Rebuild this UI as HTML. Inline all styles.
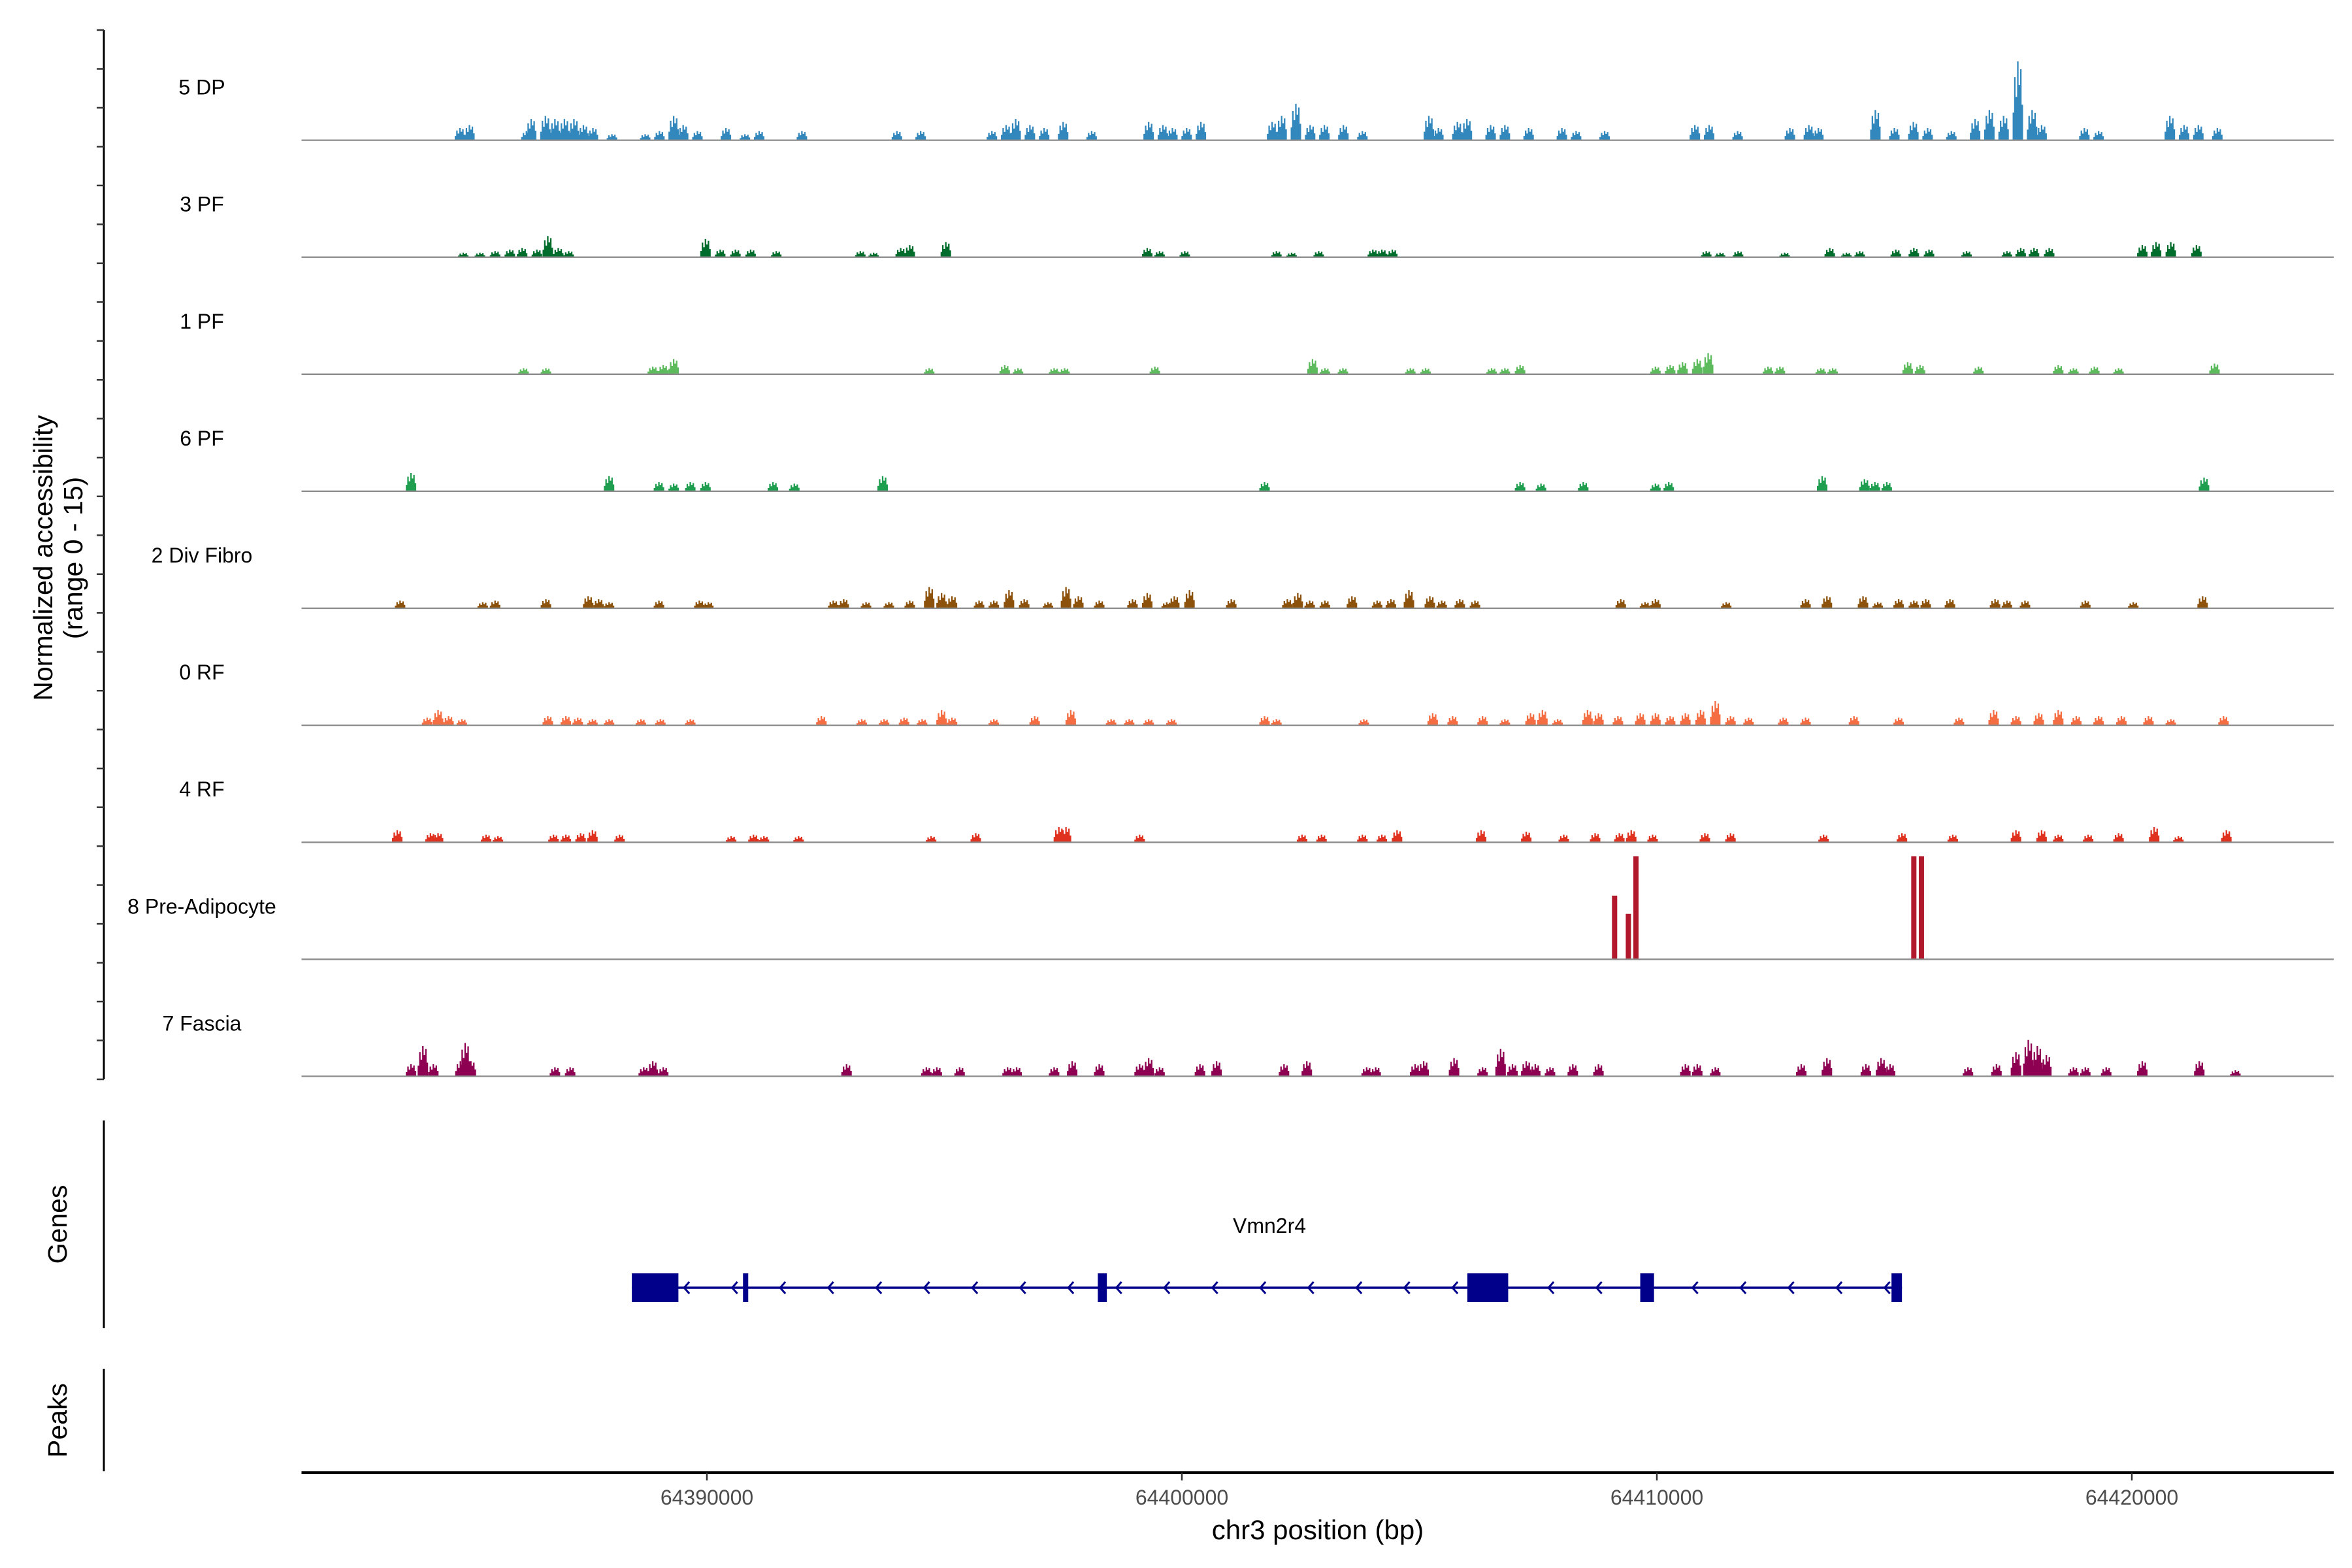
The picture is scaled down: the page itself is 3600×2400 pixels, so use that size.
<!DOCTYPE html>
<html><head><meta charset="utf-8"><title>Coverage plot chr3</title>
<style>
html,body{margin:0;padding:0;background:#fff;}
svg{display:block;font-family:"Liberation Sans",Arial,sans-serif;}
</style></head>
<body>
<svg id="chart" width="3600" height="2400" viewBox="0 0 3600 2400" xmlns="http://www.w3.org/2000/svg">
<rect width="3600" height="2400" fill="#fff"/>
<g id="tracks"></g>
<g id="leftaxis"></g>
<text transform="translate(80,854) rotate(-90)" text-anchor="middle" font-size="41" fill="#000">Normalized accessibility</text>
<text transform="translate(126,854) rotate(-90)" text-anchor="middle" font-size="41" fill="#000">(range 0 - 15)</text>
<line x1="159" y1="1715" x2="159" y2="2033" stroke="#000" stroke-width="3"/>
<text transform="translate(102,1874) rotate(-90)" text-anchor="middle" font-size="41">Genes</text>
<line x1="159" y1="2095" x2="159" y2="2252" stroke="#000" stroke-width="3"/>
<text transform="translate(102,2174) rotate(-90)" text-anchor="middle" font-size="41">Peaks</text>
<g id="gene"></g>
<g id="xaxis"></g>
<text x="2017" y="2356" text-anchor="middle" font-size="42">chr3 position (bp)</text>
</svg>
<script>
// genomic positions in kb, values in normalized accessibility
const trackNames = ["5 DP","3 PF","1 PF","6 PF","2 Div Fibro","0 RF","4 RF","8 Pre-Adipocyte","7 Fascia"];
const trackColors = ["#3288BD","#006D2C","#5DBB5D","#1E9E4E","#8C510A","#F46D43","#E0301E","#B2182B","#8E0152"];
const dpPeaks = [[64384.8,1.6],[64385.0,2],[64386.2,1.2],[64386.3,2.8],[64386.6,3.2],[64386.8,2.8],[64387.0,2.8],[64387.2,2.8],[64387.4,2],[64387.6,1.6],[64388.0,0.8],[64388.7,0.8],[64389.0,1.2],[64389.3,3.2],[64389.5,2],[64389.8,1.2],[64390.4,1.6],[64390.8,0.8],[64391.1,1.2],[64392.0,1.2],[64394.0,1.2],[64394.5,1.2],[64396.0,1.2],[64396.3,2],[64396.5,2.8],[64396.8,2],[64397.1,1.6],[64397.5,2.4],[64398.1,1.2],[64399.3,2.4],[64399.6,2],[64399.8,1.6],[64400.1,1.6],[64400.4,2.4],[64401.9,2.4],[64402.1,3.2],[64402.4,4.8],[64402.7,2],[64403.0,2],[64403.4,2],[64403.8,1.2],[64405.2,3.2],[64405.4,1.6],[64405.8,2.4],[64406.0,2.8],[64406.5,2],[64406.8,2],[64407.3,1.6],[64408.0,1.6],[64408.3,1.2],[64408.9,1.2],[64410.8,2],[64411.1,2],[64411.7,1.2],[64412.8,1.6],[64413.2,2],[64413.4,1.6],[64414.6,4],[64415.0,1.6],[64415.4,2.4],[64415.7,1.6],[64416.2,1.2],[64416.7,2.8],[64417.0,4],[64417.3,3.2],[64417.6,10.4],[64417.9,4],[64418.1,2],[64419.0,1.6],[64419.3,1.2],[64420.8,3.2],[64421.1,2],[64421.4,2],[64421.8,1.6]];
const pf3Peaks = [[64384.87,0.6],[64385.22,0.6],[64385.54,0.8],[64385.85,1],[64386.11,1.2],[64386.42,1],[64386.65,2.8],[64386.87,1.2],[64387.09,0.8],[64389.97,2.4],[64390.28,1],[64390.6,1],[64390.92,1],[64391.46,0.8],[64393.23,0.8],[64393.51,0.6],[64394.08,1.2],[64394.27,1.6],[64395.03,2],[64399.27,1.2],[64399.53,0.8],[64400.06,0.8],[64401.99,0.8],[64402.31,0.6],[64402.88,0.8],[64404.02,1],[64404.21,1],[64404.43,1],[64411.04,0.8],[64411.33,0.6],[64411.71,0.8],[64412.69,0.6],[64413.64,1.2],[64413.99,0.6],[64414.27,0.8],[64415.03,1],[64415.41,1.2],[64415.73,1],[64416.52,0.8],[64417.37,0.8],[64417.66,1.2],[64417.94,1.2],[64418.26,1.2],[64420.22,1.6],[64420.51,2],[64420.82,2],[64421.36,1.6]];
const pf1Peaks = [[64386.14,0.8],[64386.61,0.8],[64388.86,1],[64389.08,1.2],[64389.30,2],[64394.68,0.8],[64396.27,1.2],[64396.55,0.8],[64397.31,0.8],[64397.53,0.8],[64399.43,1],[64402.75,2],[64403.01,0.8],[64403.39,0.8],[64404.81,0.8],[64405.13,0.8],[64406.52,0.8],[64406.80,0.8],[64407.12,1.2],[64409.97,1],[64410.28,1.2],[64410.54,1.6],[64410.85,2],[64411.08,2.8],[64412.34,1],[64412.59,1],[64413.45,0.8],[64413.70,0.8],[64415.28,1.6],[64415.54,1.2],[64416.77,1],[64418.45,1.2],[64418.77,0.8],[64419.21,1],[64419.72,0.8],[64421.74,1.4]];
const pf6Peaks = [[64383.77,2.4],[64387.94,2],[64388.99,1.2],[64389.30,1],[64389.65,1.2],[64389.97,1.2],[64391.39,1.2],[64391.84,1],[64393.70,2],[64401.74,1.2],[64407.12,1.2],[64407.56,1],[64408.45,1.2],[64409.97,1],[64410.25,1.2],[64413.48,2],[64414.37,1.6],[64414.59,1.2],[64414.84,1.2],[64421.52,1.8]];
const divPeaks = [[64383.54,1],[64385.28,0.8],[64385.54,1],[64386.61,1.2],[64387.5,1.6],[64387.72,1.2],[64387.94,0.8],[64388.99,1],[64389.84,1],[64390.03,0.8],[64392.66,1],[64392.88,1.2],[64393.35,0.8],[64393.83,0.8],[64394.27,1],[64394.68,2.8],[64394.94,2],[64395.16,1.6],[64395.73,1],[64396.04,1],[64396.36,2.4],[64396.68,1.2],[64397.18,0.8],[64397.56,2.8],[64397.82,1.6],[64398.26,1],[64398.96,1.2],[64399.27,2],[64399.68,0.8],[64399.84,1.6],[64400.16,2.4],[64401.04,1.2],[64402.22,1.2],[64402.44,2],[64402.69,1],[64403.01,1],[64403.58,1.6],[64404.11,1],[64404.40,1.2],[64404.78,2.4],[64405.22,1.6],[64405.47,1],[64405.85,1.2],[64406.17,1],[64409.24,1.2],[64409.75,0.8],[64409.97,1.2],[64411.46,0.8],[64413.13,1.2],[64413.58,1.6],[64414.34,1.6],[64414.65,0.8],[64415.09,1.2],[64415.41,1],[64415.66,1.2],[64416.17,1.2],[64417.12,1.2],[64417.37,1],[64417.75,1],[64419.02,1],[64420.03,0.8],[64421.49,1.6]];
const rf0Peaks = [[64384.11,1],[64384.34,2],[64384.56,1.2],[64384.84,0.8],[64386.65,1.2],[64387.03,1.2],[64387.28,1],[64387.59,0.8],[64387.94,0.8],[64388.61,0.8],[64389.02,0.8],[64389.65,0.8],[64392.41,1.2],[64393.26,0.8],[64393.73,0.8],[64394.15,1],[64394.53,0.8],[64394.94,2],[64395.16,1],[64396.04,0.8],[64396.90,1.2],[64397.66,2],[64398.51,0.8],[64398.89,0.8],[64399.30,0.8],[64399.78,0.8],[64401.74,1.2],[64401.99,0.8],[64403.83,0.8],[64405.28,1.6],[64405.70,1.2],[64406.33,1.2],[64406.80,0.8],[64407.34,1.6],[64407.59,2],[64407.91,0.8],[64408.54,2],[64408.77,1.6],[64409.18,1.2],[64409.65,1.6],[64409.97,1.6],[64410.28,1.2],[64410.60,1.6],[64410.92,2],[64411.23,3.2],[64411.55,1.2],[64411.93,1],[64412.66,1],[64413.13,1],[64414.15,1.2],[64415.09,1],[64416.36,1],[64417.09,2],[64417.56,1.2],[64418.04,1.6],[64418.45,2],[64418.83,1.2],[64419.30,1.2],[64419.78,1.2],[64420.35,1.2],[64420.82,0.8],[64421.93,1.2]];
const rf4Peaks = [[64383.48,1.6],[64384.18,1.2],[64384.34,1.2],[64385.35,1],[64385.60,0.8],[64386.77,1],[64387.03,1],[64387.34,1.2],[64387.59,1.6],[64388.16,1],[64390.51,0.8],[64390.98,1],[64391.20,0.8],[64391.93,0.8],[64394.72,0.8],[64395.66,1.2],[64397.41,2],[64397.56,2],[64399.11,1],[64402.53,1],[64402.94,1],[64403.80,1],[64404.21,1],[64404.53,1.6],[64406.30,1.6],[64407.25,1.4],[64408.04,1],[64408.70,1.2],[64409.21,1.2],[64409.46,1.6],[64409.91,1],[64411.01,1.2],[64411.55,1.2],[64413.51,1],[64415.16,1.2],[64416.23,1],[64417.56,1.6],[64418.10,1.6],[64418.45,1],[64419.08,1],[64419.72,1.2],[64420.47,2],[64420.98,0.8],[64421.99,1.6]];
const adipoPeaks = [[64409.11,8.4],[64409.40,6],[64409.56,13.6],[64415.41,13.6],[64415.57,13.6]];
const fasciaPeaks = [[64383.77,1.6],[64384.02,4],[64384.24,1.6],[64384.81,2],[64384.91,4.4],[64385.03,2],[64386.80,1.2],[64387.12,1.2],[64388.67,1.2],[64388.86,2],[64389.08,1.2],[64392.94,1.6],[64394.62,1.2],[64394.84,1.2],[64395.32,1.2],[64396.33,1.2],[64396.52,1.2],[64397.31,1.2],[64397.69,2],[64398.26,1.6],[64399.11,1.6],[64399.30,2.4],[64399.53,1.2],[64400.38,1.6],[64400.73,2],[64402.15,1.6],[64402.63,2],[64403.89,1.2],[64404.08,1.2],[64404.91,1.6],[64405.09,2],[64405.73,2.4],[64406.33,1.2],[64406.71,3.6],[64406.96,1.6],[64407.25,2],[64407.44,1.6],[64407.75,1.2],[64408.23,1.6],[64408.77,1.6],[64410.60,1.6],[64410.85,1.6],[64411.23,1.2],[64413.04,1.6],[64413.58,2.4],[64414.40,1.6],[64414.72,2.4],[64414.91,1.6],[64416.55,1.2],[64417.15,1.6],[64417.56,3.2],[64417.82,4.8],[64418.01,4],[64418.20,2.8],[64418.77,1.2],[64419.02,1.2],[64419.46,1.2],[64420.22,2],[64421.42,2],[64422.18,0.8]];
const xTicks = [64390000,64400000,64410000,64420000];
const geneExons = [[64388.42,64389.40],[64390.76,64390.85],[64398.23,64398.42],[64406.01,64406.87],[64409.65,64409.94],[64414.94,64415.16]];
const geneSpan = [64388.42,64415.16];
const geneName = "Vmn2r4";

const allPeaks=[dpPeaks,pf3Peaks,pf1Peaks,pf6Peaks,divPeaks,rf0Peaks,rf4Peaks,adipoPeaks,fasciaPeaks];
const NS="http://www.w3.org/2000/svg";
const X0=461.5,X1=3572,KB0=64381.465,KB1=64424.25;
function xs(kb){return X0+(kb-KB0)/(KB1-KB0)*(X1-X0);}
const base0=214.6, step=179.1, unit=11.6;
function ys(v){return v*unit;}
function mk(tag,attrs,parent){const e=document.createElementNS(NS,tag);for(const k in attrs)e.setAttribute(k,attrs[k]);parent.appendChild(e);return e;}
const shape=[0.35,0.8,0.55,1,0.7,0.9,0.45];
const tg=document.getElementById('tracks');
trackNames.forEach((nm,i)=>{
  const b=base0+i*step;
  const g=mk('g',{},tg);
  
  
  const t=mk('text',{x:309,y:b-70,'text-anchor':'middle','font-size':32,fill:'#000'},g);
  
  
  t.textContent=nm;
  allPeaks[i].forEach(p=>{
    const cx=xs(p[0]);
    const h=ys(p[1]);
    let pts;
    if(i===7){
      pts=`${cx-4},${b} ${cx-4},${b-h} ${cx+4},${b-h} ${cx+4},${b}`;
    } else {
      const w=16,n=shape.length,sw=w/n;
      pts=`${cx-w/2},${b}`;
      shape.forEach((s,k)=>{const x=cx-w/2+k*sw;pts+=` ${x},${b-h*s} ${x+sw},${b-h*s}`;});
      pts+=` ${cx+w/2},${b}`;
    }
    const r=mk('polygon',{points:pts,fill:trackColors[i]},g);
    
    
  });
  const l=mk('line',{x1:X0,x2:X1,y1:b,y2:b,stroke:'#8c8c8c','stroke-width':2.3},g);
  
  
});
// left axis
const la=document.getElementById('leftaxis');
mk('line',{x1:159,x2:159,y1:46,y2:1652,stroke:'#000','stroke-width':3},la);
for(let k=0;k<=27;k++){const y=46+k*(1606/27);mk('line',{x1:148,x2:159,y1:y,y2:y,stroke:'#333','stroke-width':2.5},la);}
// gene
const gg=document.getElementById('gene');
const gy=1971,gc='#00008B';
mk('line',{x1:xs(geneSpan[0]),x2:xs(geneSpan[1]),y1:gy,y2:gy,stroke:gc,'stroke-width':3.5},gg);
for(let x=xs(geneSpan[0])+80;x<xs(geneSpan[1])-20;x+=73.5){
  mk('polyline',{points:`${x+8},${gy-9} ${x},${gy} ${x+8},${gy+9}`,fill:'none',stroke:gc,'stroke-width':3},gg);
}
geneExons.forEach(e=>{
  const x1=xs(e[0]),x2=xs(e[1]);
  const r=mk('rect',{x:x1,y:gy-22,width:Math.max(x2-x1,8),height:44,fill:gc},gg);
  
  
});
const gl=mk('text',{x:1943,y:1887,'text-anchor':'middle','font-size':32},gg);


gl.textContent=geneName;
// x axis
const xa=document.getElementById('xaxis');
mk('line',{x1:X0,x2:X1,y1:2254,y2:2254,stroke:'#000','stroke-width':4},xa);
xTicks.forEach(v=>{
  const x=xs(v/1000);
  mk('line',{x1:x,x2:x,y1:2254,y2:2266,stroke:'#333','stroke-width':2.5},xa);
  const t=mk('text',{x:x,y:2303,'text-anchor':'middle','font-size':32,fill:'#4d4d4d'},xa);
  
  
  t.textContent=String(v);
});
</script>
</body></html>
